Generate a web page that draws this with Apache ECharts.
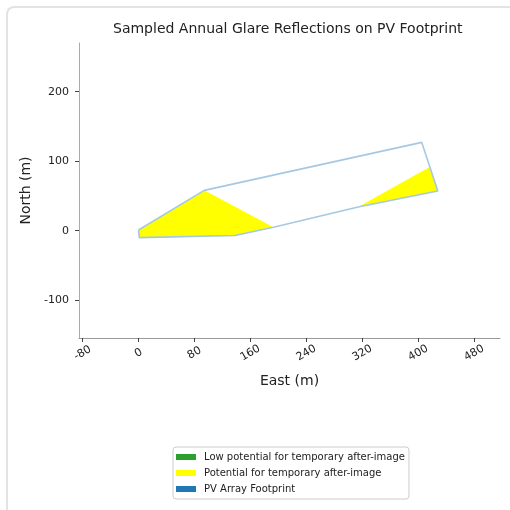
<!DOCTYPE html>
<html>
<head>
<meta charset="utf-8">
<script src="https://cdn.jsdelivr.net/npm/echarts@6/dist/echarts.min.js"></script>
<style>
    html, body { margin: 0; padding: 0; background: #fff; overflow: hidden; width: 510px; height: 510px; }
    .card {
        position: absolute; left: 6px; top: 6px; width: 800px; height: 800px;
        border-left: 2px solid #e3e3e3; border-top: 2px solid #e3e3e3;
        border-top-left-radius: 8px; box-sizing: border-box;
    }
    #chart { position: absolute; left: 0; top: 0; width: 510px; height: 510px; }
</style>
</head>
<body>
<div class="card"></div>
<div id="chart"></div>
<script>
    // footprint outline (East, North in m), closed
    const footprint = [
        [0, 1], [94, 58], [405, 127], [428, 57], [314, 34], [193, 5], [138, -7], [1, -10], [0, 1]
    ];
    // glare reflection patches (yellow)
    const glarePatches = [
        [[0, 1], [94, 58], [193, 5], [138, -7], [1, -10]],
        [[314, 34], [417, 92], [428, 57]]
    ];
    const lowPatches = [];   // none in this sample
    const xTicks = [-80, 0, 80, 160, 240, 320, 400, 480];
    const yTicks = [-100, 0, 100, 200];

    const chart = echarts.init(document.getElementById('chart'));
    const font = 'DejaVu Sans';

    function patchRender(patches, color) {
        return function (params, api) {
            const pts = patches[params.dataIndex].map(p => api.coord(p));
            return {
                type: 'polygon',
                shape: { points: pts },
                style: { fill: color, stroke: null }
            };
        };
    }

    chart.setOption({
        animation: false,
        textStyle: { fontFamily: font },
        title: {
            text: 'Sampled Annual Glare Reflections on PV Footprint',
            left: 113,
            top: 22,
            padding: 0,
            textStyle: { fontFamily: font, fontSize: 14, fontWeight: 'normal', color: '#222' }
        },
        grid: { left: 79, top: 43, right: 10, bottom: 172 },
        xAxis: {
            type: 'value',
            min: -85.1, max: 516.9,
            name: 'East (m)', nameLocation: 'middle', nameGap: 36,
            nameTextStyle: { fontFamily: font, fontSize: 14, color: '#222' },
            splitLine: { show: false },
            axisLine: { show: true, onZero: false, lineStyle: { color: '#999' } },
            axisTick: { show: true, length: 4, customValues: xTicks, lineStyle: { color: '#444' } },
            axisLabel: {
                customValues: xTicks, rotate: 30, align: 'center', verticalAlign: 'middle',
                margin: 15, fontFamily: font, fontSize: 11, color: '#222'
            }
        },
        yAxis: {
            type: 'value',
            min: -154.4, max: 270,
            name: 'North (m)', nameLocation: 'middle', nameGap: 42, nameRotate: 90,
            nameTextStyle: { fontFamily: font, fontSize: 14, color: '#222' },
            splitLine: { show: false },
            axisLine: { show: true, onZero: false, lineStyle: { color: '#aaa' } },
            axisTick: { show: true, length: 4, customValues: yTicks, lineStyle: { color: '#444' } },
            axisLabel: { customValues: yTicks, margin: 10, fontFamily: font, fontSize: 11, color: '#222' }
        },
        legend: {
            orient: 'vertical',
            left: 173, top: 447,
            padding: [4, 4, 4, 3],
            itemWidth: 20, itemHeight: 6, itemGap: 4,
            icon: 'rect',
            borderColor: '#ccc', borderWidth: 1, borderRadius: 3,
            textStyle: { fontFamily: font, fontSize: 10, lineHeight: 12, color: '#222', padding: [0, 0, 0, 3] },
            data: [
                { name: 'Low potential for temporary after-image', itemStyle: { color: '#2ca02c' } },
                { name: 'Potential for temporary after-image', itemStyle: { color: '#ffff00' } },
                { name: 'PV Array Footprint', itemStyle: { color: '#1f77b4' } }
            ]
        },
        series: [
            {
                name: 'Low potential for temporary after-image',
                type: 'custom',
                itemStyle: { color: '#2ca02c' },
                renderItem: patchRender(lowPatches, '#2ca02c'),
                data: lowPatches.map((p, i) => [i])
            },
            {
                name: 'Potential for temporary after-image',
                type: 'custom',
                itemStyle: { color: '#ffff00' },
                renderItem: patchRender(glarePatches, '#ffff00'),
                data: glarePatches.map((p, i) => [i])
            },
            {
                name: 'PV Array Footprint',
                type: 'line',
                data: footprint,
                showSymbol: false,
                symbol: 'none',
                itemStyle: { color: '#1f77b4' },
                lineStyle: { color: '#a6c8e2', width: 1.6 },
                z: 5
            }
        ]
    });
</script>
</body>
</html>
